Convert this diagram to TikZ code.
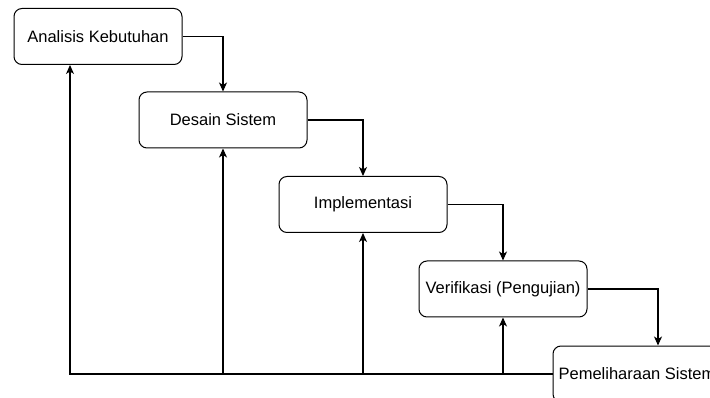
\documentclass[tikz,border=0pt]{standalone}
\usepackage{fontspec}
\setmainfont{Liberation Sans}
\usetikzlibrary{arrows.meta}
\usetikzlibrary{calc}

\tikzset{
	stagebox/.style={draw, rounded corners=8pt, line width=1pt, minimum width=168pt, minimum height=56pt, inner sep=0pt, font=\fontsize{16.5}{20}\selectfont},
	flow/.style={line width=1.1pt, -{Stealth[length=9pt, width=8pt, inset=2.5pt]}}
}

\begin{document}
\begin{tikzpicture}[x=1pt, y=-1pt]
							\useasboundingbox (0,0) rectangle (710,398);
							
							\node[stagebox] (ak) at (98,36.5) {Analisis Kebutuhan};
							\node[stagebox] (ds) at (223,120) {Desain Sistem};
							\node[stagebox] (im) at (363,204.5) {Implementasi};
							\node[stagebox] (vp) at (503,289) {Verifikasi (Pengujian)};
							\node[stagebox] (ps) at (637,374) {Pemeliharaan Sistem};
							
							\coordinate (psin) at ([xshift=21pt]ps.north);
							\coordinate (fb) at (70,374);
							
							% {down the steps}
							\draw[flow] (ak.east) -| (ds.north);
							\draw[flow] (ds.east) -| (im.north);
							\draw[flow] (im.east) -| (vp.north);
							\draw[flow] (vp.east) -| (psin);
							
							% {back from maintenance}
							\draw[flow] (ps.west) -- (fb) -- (fb |- ak.south);
							\draw[flow] (ds.south |- fb) -- (ds.south);
							\draw[flow] (im.south |- fb) -- (im.south);
							\draw[flow] (vp.south |- fb) -- (vp.south);
							
						\end{tikzpicture}
\end{document}
